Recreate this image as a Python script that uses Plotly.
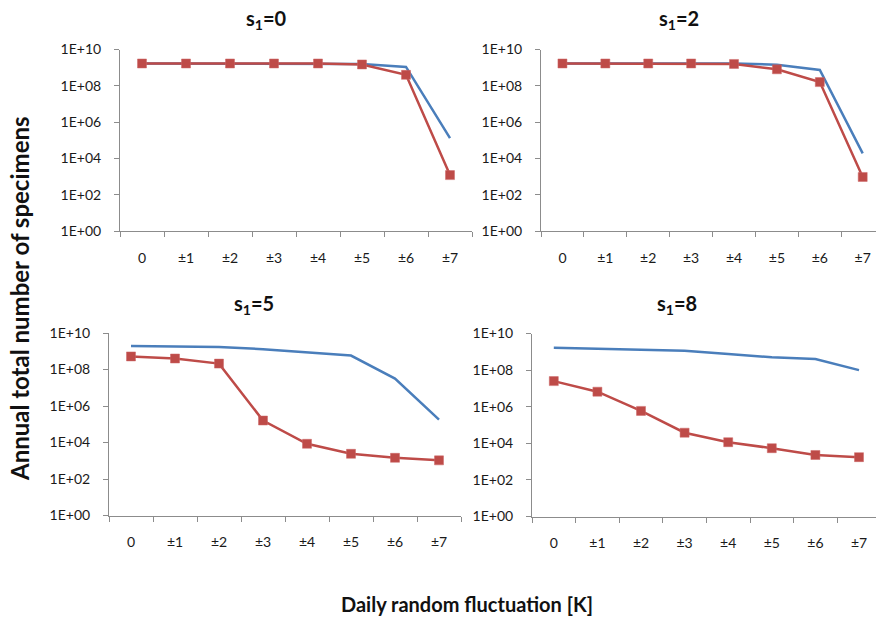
import plotly.graph_objects as go

categories = ["0", "±1", "±2", "±3", "±4", "±5", "±6", "±7"]
panel_titles = ["s<sub>1</sub>=0", "s<sub>1</sub>=2", "s<sub>1</sub>=5", "s<sub>1</sub>=8"]

blue_s0 = [1.7e9, 1.7e9, 1.7e9, 1.7e9, 1.7e9, 1.6e9, 1.1e9, 1.3e5]
red_s0 = [1.7e9, 1.7e9, 1.7e9, 1.7e9, 1.7e9, 1.5e9, 4.0e8, 1.2e3]
blue_s2 = [1.7e9, 1.7e9, 1.7e9, 1.7e9, 1.7e9, 1.45e9, 7.4e8, 1.9e4]
red_s2 = [1.7e9, 1.7e9, 1.7e9, 1.7e9, 1.6e9, 8.1e8, 1.6e8, 9.5e2]
blue_s5 = [1.95e9, 1.85e9, 1.7e9, 1.3e9, 8.7e8, 5.8e8, 3.2e7, 1.8e5]
red_s5 = [5.2e8, 4.0e8, 2.1e8, 1.6e5, 8.5e3, 2.4e3, 1.45e3, 1.05e3]
blue_s8 = [1.65e9, 1.5e9, 1.3e9, 1.15e9, 7.6e8, 5.0e8, 4.0e8, 1.0e8]
red_s8 = [2.5e7, 6.6e6, 5.9e5, 3.8e4, 1.15e4, 5.4e3, 2.3e3, 1.75e3]

ytick_vals = [1, 1e2, 1e4, 1e6, 1e8, 1e10]
ytick_text = ["1E+00", "1E+02", "1E+04", "1E+06", "1E+08", "1E+10"]

W, H = 876, 617
BLUE = "#4A7EBB"
RED = "#BE4B48"
FONT = "Lato"


def px(x):
    return x / W


def py(y):
    return (H - y) / H


# window-pixel geometry of the four plot areas: (x0, x1, y_top, y_bottom, xrange_end)
panels = [
    (120, 472, 49.5, 231, 7.5),
    (541, 876, 49.5, 231, 7.31),
    (109, 461, 333, 515.5, 7.5),
    (532, 876, 333.5, 516.5, 7.39),
]
title_pos = [(266, 19), (679, 19), (254, 304), (677, 304)]
series = [(blue_s0, red_s0), (blue_s2, red_s2), (blue_s5, red_s5), (blue_s8, red_s8)]

fig = go.Figure()
layout = {}
annotations = []
for i, ((x0, x1, yt, yb, xr), (b, r), title, (tx, ty)) in enumerate(
        zip(panels, series, panel_titles, title_pos)):
    n = "" if i == 0 else str(i + 1)
    xa, ya = "x" + n, "y" + n
    fig.add_trace(go.Scatter(x=categories, y=b, mode="lines", xaxis=xa, yaxis=ya,
                             line=dict(color=BLUE, width=2.5), showlegend=False))
    fig.add_trace(go.Scatter(x=categories, y=r, mode="lines+markers", xaxis=xa, yaxis=ya,
                             line=dict(color=RED, width=2.5),
                             marker=dict(symbol="square", size=9, color=RED,
                                         line=dict(color="#C66", width=0.5)),
                             showlegend=False))
    layout["xaxis" + n] = dict(
        domain=[px(x0), min(px(x1), 1.0)], anchor=ya, type="category",
        categoryorder="array", categoryarray=categories,
        range=[-0.5, xr], showline=True, linecolor="#8C8C8C", linewidth=1,
        ticks="outside", tickson="boundaries", ticklen=5, tickcolor="#8C8C8C",
        showgrid=False, zeroline=False, ticklabelstandoff=14, automargin=False,
        tickfont=dict(family=FONT, size=14, color="#1a1a1a"),
    )
    layout["yaxis" + n] = dict(
        domain=[py(yb), py(yt)], anchor=xa, type="log",
        range=[0, 10], tickvals=ytick_vals, ticktext=ytick_text,
        showline=True, linecolor="#8C8C8C", linewidth=1,
        ticks="outside", ticklen=5, tickcolor="#8C8C8C",
        showgrid=False, zeroline=False, ticklabelstandoff=10, automargin=False,
        tickfont=dict(family=FONT, size=14, color="#1a1a1a"),
    )
    annotations.append(dict(text="<b>" + title + "</b>", x=px(tx), y=py(ty),
                            xref="paper", yref="paper", xanchor="center", yanchor="middle",
                            showarrow=False, font=dict(family=FONT, size=20, color="#111")))

annotations.append(dict(text="<b>Annual total number of specimens</b>", x=px(19), y=py(299),
                        xref="paper", yref="paper", textangle=-90, showarrow=False,
                        xanchor="center", yanchor="middle",
                        font=dict(family=FONT, size=24, color="#111")))
annotations.append(dict(text="<b>Daily random fluctuation [K]</b>", x=px(467), y=py(604),
                        xref="paper", yref="paper", showarrow=False,
                        xanchor="center", yanchor="middle",
                        font=dict(family=FONT, size=20, color="#111")))

fig.update_layout(width=W, height=H,
                  margin=dict(l=0, r=0, t=0, b=0, pad=0, autoexpand=False),
                  paper_bgcolor="white", plot_bgcolor="white",
                  annotations=annotations, **layout)
fig.write_html("out.html", config={"displayModeBar": False},
               post_script="document.body.style.margin='0';document.body.style.overflow='hidden';")
